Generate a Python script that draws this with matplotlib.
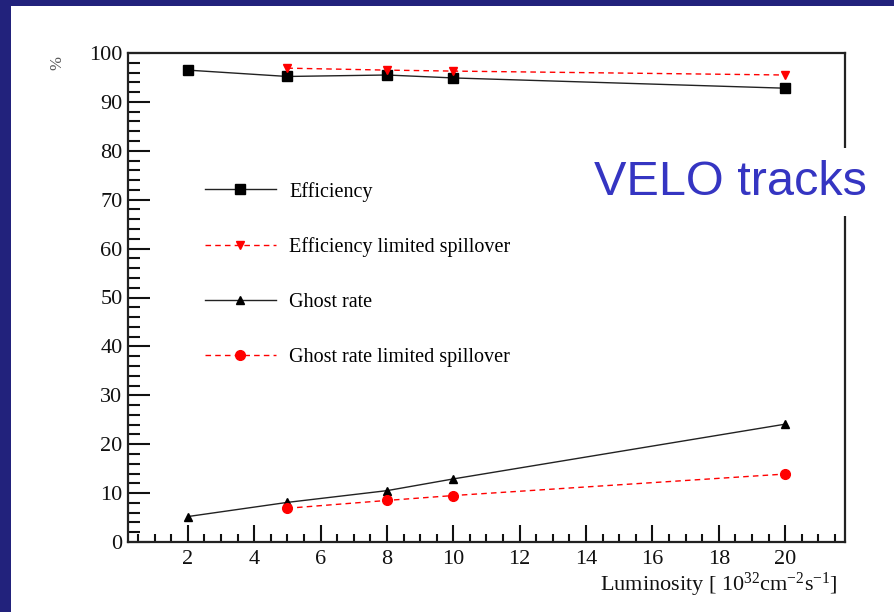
import matplotlib
matplotlib.use("Agg")
import matplotlib.pyplot as plt
from matplotlib.patches import Rectangle
from matplotlib.ticker import MultipleLocator

# Luminosity points [10^32 cm^-2 s^-1]
lumi = [2, 5, 8, 10, 20]
lumi_spill = [5, 8, 10, 20]

# VELO track reconstruction performance [%]
efficiency = [96.5, 95.2, 95.5, 94.9, 92.8]
efficiency_spill = [96.9, 96.5, 96.3, 95.5]
ghost_rate = [5.2, 8.1, 10.5, 12.9, 24.1]
ghost_rate_spill = [6.9, 8.5, 9.5, 13.9]

y_ticks = [0, 10, 20, 30, 40, 50, 60, 70, 80, 90, 100]
x_ticks = [2, 4, 6, 8, 10, 12, 14, 16, 18, 20]

plt.rcParams["font.family"] = ["Liberation Serif", "DejaVu Serif"]
plt.rcParams["mathtext.fontset"] = "custom"
plt.rcParams["mathtext.rm"] = "Liberation Serif"
plt.rcParams["mathtext.it"] = "Liberation Serif:italic"

W, H = 895, 612
fig = plt.figure(figsize=(W / 100, H / 100), dpi=100)
fig.patch.set_facecolor("#22227c")
# white slide panel
fig.patches.append(Rectangle((11 / W, 0), 1 - 11 / W, 1 - 6 / H,
                             transform=fig.transFigure, facecolor="white",
                             edgecolor="none", zorder=-10))

ax = fig.add_axes([128 / W, 1 - 542 / H, (845 - 128) / W, (542 - 53) / H])
ax.set_facecolor("white")

ax.plot(lumi, efficiency, color="#222222", lw=1.0, marker="s", ms=7,
        mfc="black", mec="black", label="Efficiency", zorder=3)
ax.plot(lumi_spill, efficiency_spill, color="red", lw=1.0, ls=(0, (4, 3)),
        marker="v", ms=6, mfc="red", mec="red",
        label="Efficiency limited spillover", zorder=4)
ax.plot(lumi, ghost_rate, color="#222222", lw=1.0, marker="^", ms=6,
        mfc="black", mec="black", label="Ghost rate", zorder=3)
ax.plot(lumi_spill, ghost_rate_spill, color="red", lw=1.0, ls=(0, (4, 3)),
        marker="o", ms=7, mfc="red", mec="red",
        label="Ghost rate limited spillover", zorder=4)

ax.set_xlim(0.2, 21.8)
ax.set_ylim(0, 100)
ax.set_xticks(x_ticks)
ax.set_yticks(y_ticks)
ax.xaxis.set_minor_locator(MultipleLocator(0.5))
ax.yaxis.set_minor_locator(MultipleLocator(2))
ax.tick_params(axis="both", which="both", direction="in", top=False,
               right=False, colors="#111111", labelsize=16)
ax.tick_params(axis="y", which="major", length=16, width=1.5, pad=4)
ax.tick_params(axis="y", which="minor", length=8.5, width=1.5)
ax.tick_params(axis="x", which="major", length=12, width=1.5, pad=6)
ax.tick_params(axis="x", which="minor", length=6, width=1.5)
for s in ax.spines.values():
    s.set_linewidth(1.6)
    s.set_color("#222222")

fig.text(57 / W, 1 - 63 / H, "%", rotation=90, ha="center", va="center",
         fontsize=12, color="#555555")
fig.text(838 / W, 1 - 585 / H,
         r"Luminosity [ 10$^{\mathrm{32}}$cm$^{\mathrm{-2}}$s$^{\mathrm{-1}}$]",
         ha="right", va="center", fontsize=16, color="#111111")

leg = ax.legend(loc="upper left", bbox_to_anchor=(0.107, 0.737),
                frameon=False, fontsize=14.5, handlelength=3.55,
                handletextpad=0.65, labelspacing=1.78, borderpad=0,
                borderaxespad=0)

fig.text(594 / W, 1 - 182 / H, "VELO tracks", ha="left", va="center",
         fontsize=35, color="#3535c2", family="Liberation Sans",
         bbox=dict(facecolor="white", edgecolor="none", pad=8), zorder=5)

fig.savefig("out.png", dpi=100, facecolor=fig.get_facecolor())
